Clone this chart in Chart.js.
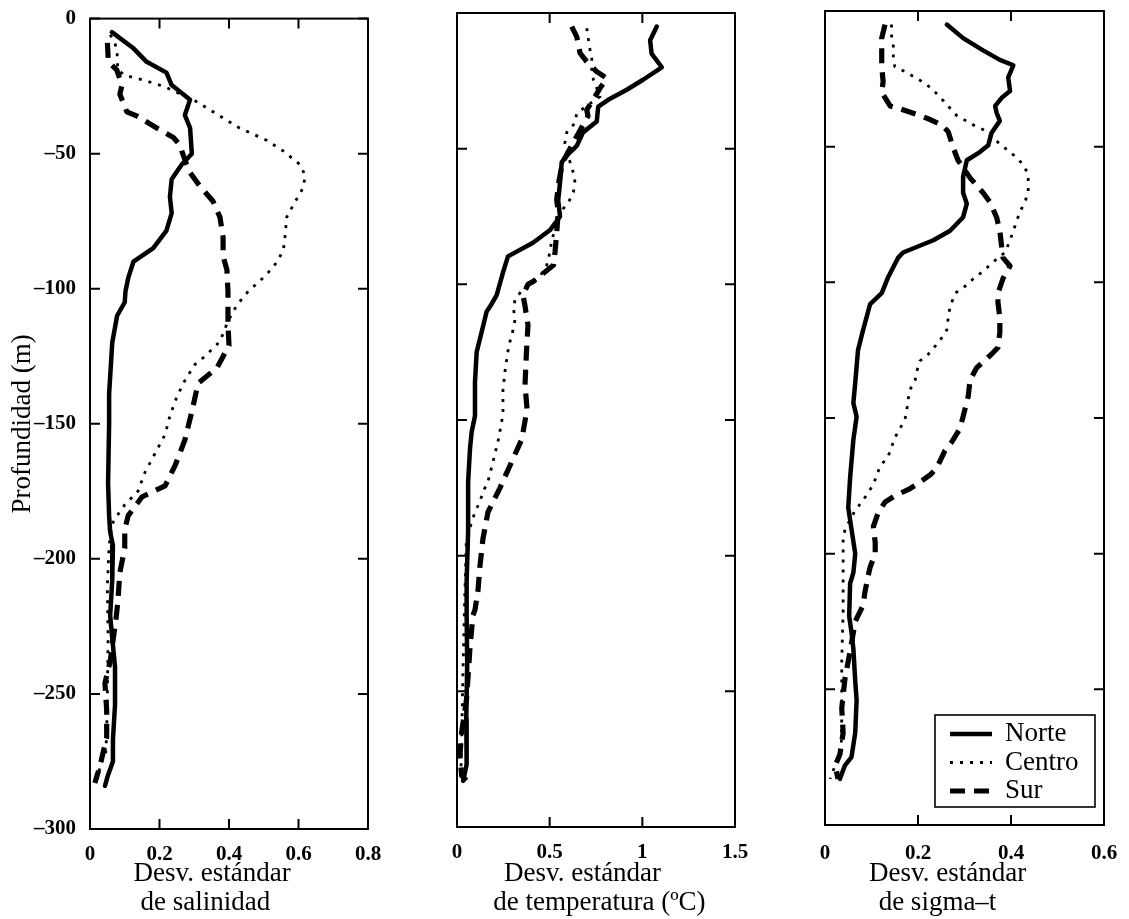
<!DOCTYPE html>
<html><head><meta charset="utf-8">
<script src="https://cdn.jsdelivr.net/npm/chart.js@4.4.1/dist/chart.umd.min.js"></script>
<style>
html,body{margin:0;padding:0;background:#fff;}
#wrap{position:relative;width:1129px;height:919px;overflow:hidden;background:#fff;}
canvas{position:absolute;top:0;}
</style></head><body>
<div id="wrap">
<canvas id="c1" width="420" height="919" style="left:0px"></canvas>
<canvas id="c2" width="360" height="919" style="left:420px"></canvas>
<canvas id="c3" width="349" height="919" style="left:780px"></canvas>
</div>
<script>
// ---------- DATA ----------
const seriesNames = ['Norte', 'Centro', 'Sur'];
const depthTicks = [0, -50, -100, -150, -200, -250, -300];

// Panel 1: salinity std dev
const salNorteDepth = [-5,-11,-16,-20,-24.6,-30,-35.7,-40.5,-50,-54,-59.5,-66,-72,-78.5,-85,-90,-96,-101,-105,-110,-120,-139,-150,-172,-184,-190,-195,-208,-221,-228,-240,-254,-267,-275,-280,-284];
const salNorteValue = [0.063,0.125,0.163,0.22,0.235,0.288,0.273,0.288,0.293,0.264,0.235,0.23,0.235,0.22,0.182,0.125,0.11,0.102,0.1,0.078,0.064,0.055,0.055,0.052,0.055,0.058,0.066,0.064,0.058,0.063,0.072,0.072,0.066,0.066,0.052,0.043];
const salCentroDepth = [-6,-9,-13,-19,-21,-23,-25,-30,-34.5,-40.5,-45,-49,-54,-58,-62.5,-69,-73.5,-81,-86,-92,-97,-101,-106,-112,-119.5,-125,-128,-134,-140,-147,-154,-161,-168,-175,-180,-184,-187,-195,-210,-230,-250,-265,-272,-277,-280];
const salCentroValue = [0.058,0.072,0.078,0.08,0.1,0.16,0.21,0.297,0.354,0.43,0.508,0.556,0.604,0.619,0.614,0.585,0.566,0.561,0.556,0.528,0.49,0.455,0.423,0.397,0.374,0.331,0.302,0.273,0.25,0.23,0.216,0.187,0.158,0.138,0.1,0.078,0.064,0.055,0.05,0.052,0.05,0.048,0.045,0.025,0.03];
const salSurDepth = [-9,-16,-19,-24.6,-28,-34.5,-36,-40.5,-44,-47,-49,-54,-57,-62,-67.6,-73.5,-81,-88,-93,-101,-113,-121,-129.4,-135,-145,-156,-165.4,-173,-177,-184,-189,-196,-205,-216,-222,-238,-246,-256,-266,-276.5,-283];
const salSurValue = [0.05,0.053,0.077,0.092,0.086,0.106,0.134,0.192,0.24,0.26,0.264,0.278,0.288,0.316,0.354,0.374,0.383,0.383,0.394,0.397,0.397,0.4,0.365,0.311,0.294,0.273,0.245,0.216,0.15,0.11,0.1,0.1,0.086,0.08,0.075,0.058,0.043,0.048,0.048,0.029,0.014];

// Panel 2: temperature std dev (ºC)
const temNorteDepth = [-5,-10,-15,-20,-24.6,-28.3,-32,-34.5,-40,-44,-49,-52,-55,-62.5,-69,-75,-80,-84.7,-89.7,-95.7,-104,-108,-110,-117.6,-125,-136,-148.5,-154.4,-160.7,-172.8,-191,-209.6,-222,-240,-260,-277,-283];
const temNorteValue = [1.078,1.042,1.05,1.105,1.004,0.916,0.816,0.762,0.754,0.68,0.646,0.6,0.565,0.556,0.546,0.556,0.502,0.41,0.275,0.248,0.214,0.18,0.16,0.133,0.106,0.097,0.097,0.079,0.07,0.06,0.06,0.052,0.052,0.055,0.05,0.052,0.033];
const temCentroDepth = [-5.6,-9.3,-13.6,-16.7,-21,-24.6,-27.7,-30.8,-36.9,-40.5,-44,-48,-55,-59,-62.5,-66,-70,-73.5,-78.5,-83.5,-88,-93,-97,-101.8,-105.5,-109,-113,-117,-121,-124.6,-132,-139,-147,-150.7,-158,-165.4,-172.8,-176.5,-180,-184,-187.5,-195,-220,-250,-270,-282];
const temCentroValue = [0.7,0.708,0.718,0.727,0.727,0.736,0.754,0.772,0.646,0.637,0.592,0.582,0.61,0.628,0.637,0.628,0.6,0.556,0.538,0.511,0.502,0.484,0.448,0.356,0.313,0.305,0.313,0.302,0.286,0.275,0.259,0.248,0.248,0.241,0.221,0.194,0.167,0.14,0.124,0.097,0.079,0.05,0.04,0.03,0.025,0.02];
const temSurDepth = [-5,-8.7,-14.8,-17.9,-21.6,-24,-27.7,-30.8,-35.7,-38,-45,-55,-62,-68.8,-73.5,-81,-88,-93,-99,-100,-104,-108,-115,-126,-137,-146,-157,-165.4,-175,-184,-193.8,-203.7,-213,-220,-222,-234,-252.6,-265,-273.5,-281,-283];
const temSurValue = [0.619,0.646,0.664,0.7,0.754,0.808,0.772,0.745,0.7,0.707,0.65,0.57,0.55,0.538,0.546,0.538,0.529,0.52,0.41,0.383,0.356,0.367,0.383,0.374,0.367,0.378,0.35,0.295,0.232,0.167,0.14,0.124,0.113,0.097,0.086,0.07,0.052,0.025,0.016,0.025,0.052];

// Panel 3: sigma-t std dev
const sigNorteDepth = [-5,-10,-14.5,-18,-20,-24.5,-29.5,-32,-35,-37.5,-40.5,-45,-49.5,-52,-55,-61,-67,-71,-76,-81,-84.5,-89,-91,-98,-104,-108,-112.5,-117.5,-125,-137,-144.5,-149.5,-158,-172,-183,-191,-200,-207,-211,-223,-229,-235,-247,-254,-266,-275,-278,-283];
const sigNorteValue = [0.262,0.297,0.34,0.376,0.405,0.394,0.398,0.38,0.366,0.369,0.376,0.358,0.351,0.333,0.305,0.297,0.297,0.305,0.297,0.269,0.233,0.168,0.157,0.136,0.122,0.097,0.09,0.082,0.071,0.065,0.061,0.068,0.061,0.054,0.05,0.057,0.065,0.061,0.054,0.052,0.057,0.061,0.065,0.068,0.065,0.057,0.043,0.032];
const sigCentroDepth = [-5,-9,-13,-17,-20.5,-22,-25.5,-28.5,-33,-38.5,-42,-44,-49,-53,-56,-60,-63.5,-66.5,-70.5,-74,-77.5,-81,-84.5,-89,-93,-96,-98,-101,-104,-109,-113,-117.5,-120.5,-123.5,-126.5,-129,-133,-136,-139.5,-143,-147,-150.5,-154,-157,-164,-168,-174.5,-177.5,-181,-184,-191,-195,-210,-221,-240,-260,-272,-283];
const sigCentroValue = [0.143,0.143,0.147,0.147,0.15,0.168,0.204,0.229,0.254,0.283,0.319,0.344,0.376,0.405,0.423,0.437,0.437,0.437,0.43,0.419,0.412,0.405,0.398,0.387,0.358,0.34,0.323,0.305,0.28,0.269,0.265,0.262,0.251,0.237,0.222,0.204,0.197,0.194,0.183,0.179,0.176,0.172,0.161,0.151,0.136,0.118,0.104,0.093,0.079,0.065,0.043,0.039,0.039,0.039,0.036,0.036,0.035,0.011];
const sigSurDepth = [-5,-10,-16,-20.5,-26,-30,-35,-36,-38.5,-40,-42,-44.5,-50.5,-55,-61.5,-67,-70.5,-76,-81,-87,-91,-94,-98.5,-104,-107.5,-113,-118.5,-124,-126.5,-131.5,-136,-142,-149.5,-154,-159,-162,-168.5,-171,-174.5,-176,-179,-181,-185,-190,-196,-200,-205,-208,-214,-219,-225,-236,-246,-257,-266,-274,-278,-283];
const sigSurValue = [0.129,0.122,0.122,0.122,0.125,0.122,0.14,0.161,0.204,0.226,0.251,0.265,0.276,0.286,0.312,0.34,0.355,0.369,0.376,0.38,0.383,0.398,0.383,0.372,0.372,0.376,0.376,0.372,0.358,0.326,0.312,0.308,0.297,0.29,0.272,0.258,0.24,0.226,0.197,0.183,0.147,0.129,0.114,0.104,0.108,0.108,0.097,0.093,0.086,0.082,0.065,0.054,0.043,0.036,0.039,0.032,0.022,0.028];

// ---------- STYLES ----------
const FONT = "'Liberation Serif', 'Times New Roman', Times, serif";
Chart.defaults.font.family = FONT;
Chart.defaults.color = '#000';

const lineStyles = {
  Norte:  {borderWidth: 4.5, borderDash: [], borderCapStyle: 'round'},
  Centro: {borderWidth: 2.8, borderDash: [3, 7], borderCapStyle: 'butt'},
  Sur:    {borderWidth: 5.2, borderDash: [15, 9], borderCapStyle: 'butt'}
};

const framePlugin = {
  id: 'frame',
  afterDatasetsDraw(chart) {
    const {ctx, chartArea: a, scales: {x, y}} = chart;
    ctx.save();
    ctx.strokeStyle = '#000';
    ctx.lineWidth = 2;
    ctx.setLineDash([]);
    ctx.strokeRect(a.left, a.top, a.right - a.left, a.bottom - a.top);
    const L = 10;
    ctx.beginPath();
    x.ticks.forEach(t => {
      const px = x.getPixelForValue(t.value);
      ctx.moveTo(px, a.bottom); ctx.lineTo(px, a.bottom - L);
      ctx.moveTo(px, a.top); ctx.lineTo(px, a.top + L);
    });
    y.ticks.forEach(t => {
      const py = y.getPixelForValue(t.value);
      ctx.moveTo(a.left, py); ctx.lineTo(a.left + L, py);
      ctx.moveTo(a.right, py); ctx.lineTo(a.right - L, py);
    });
    ctx.stroke();
    ctx.restore();
  }
};

const boxLegend = {
  id: 'boxLegend',
  afterDraw(chart, args, opts) {
    if (!opts || !opts.display) return;
    const {ctx, chartArea: a} = chart;
    const w = 160, h = 92;
    const left = a.right - 9 - w, top = a.bottom - 18 - h;
    ctx.save();
    ctx.fillStyle = '#fff';
    ctx.fillRect(left, top, w, h);
    ctx.lineWidth = 1.6;
    ctx.strokeStyle = '#000';
    ctx.setLineDash([]);
    ctx.strokeRect(left, top, w, h);
    const rows = [19, 47.5, 76];
    chart.data.datasets.forEach((ds, i) => {
      const yy = top + rows[i];
      ctx.beginPath();
      ctx.setLineDash(ds.borderDash || []);
      ctx.lineWidth = ds.borderWidth;
      ctx.lineCap = 'butt';
      ctx.strokeStyle = ds.borderColor;
      ctx.moveTo(left + 15, yy);
      ctx.lineTo(left + 57, yy);
      ctx.stroke();
      ctx.setLineDash([]);
      ctx.fillStyle = '#000';
      ctx.font = "27px " + FONT;
      ctx.textBaseline = 'middle';
      ctx.textAlign = 'left';
      ctx.fillText(ds.label, left + 70, yy);
    });
    ctx.restore();
  }
};

function buildDatasets(depths, values) {
  return seriesNames.map((name, k) => Object.assign({
    label: name,
    data: depths[k].map((d, i) => ({x: values[k][i], y: d})),
    showLine: true,
    borderColor: '#000',
    backgroundColor: '#000',
    pointRadius: 0,
    pointHoverRadius: 0,
    tension: 0,
    fill: false,
    borderJoinStyle: 'round'
  }, lineStyles[name]));
}

function makePanel(id, p) {
  new Chart(document.getElementById(id), {
    type: 'scatter',
    data: {datasets: buildDatasets(p.depths, p.values)},
    options: {
      responsive: false,
      animation: false,
      events: [],
      layout: {padding: {left: 0, right: p.padRight, top: p.padTop, bottom: 0}},
      plugins: {
        legend: {display: false},
        tooltip: {enabled: false},
        boxLegend: {display: !!p.legend}
      },
      scales: {
        x: {
          type: 'linear', position: 'bottom',
          min: 0, max: p.xMax,
          grid: {display: false}, border: {display: false},
          afterBuildTicks(s) { s.ticks = p.xTicks.map(v => ({value: v})); },
          ticks: {font: {size: 21, weight: 'bold'}, padding: p.xTickPad, maxRotation: 0,
                  callback: v => String(v)},
          title: {display: true, text: p.xTitle,
                  font: {size: 27, lineHeight: '29px'},
                  padding: {top: 0, bottom: 2}},
          afterFit(s) { s.height = p.xAxisHeight; }
        },
        y: {
          type: 'linear', position: 'left',
          min: -300, max: 0,
          grid: {display: false}, border: {display: false},
          afterBuildTicks(s) { s.ticks = depthTicks.map(v => ({value: v})); },
          ticks: {display: p.showYLabels, font: {size: 21, weight: 'bold'}, padding: 6,
                  callback: v => (v < 0 ? '\u2013' + (-v) : String(v))},
          title: {display: !!p.yTitle, text: p.yTitle || '',
                  font: {size: 27, lineHeight: '29px'},
                  padding: {top: 8.5, bottom: 0}},
          afterFit(s) { s.width = p.yAxisWidth; }
        }
      }
    },
    plugins: [framePlugin, boxLegend]
  });
}

makePanel('c1', {
  depths: [salNorteDepth, salCentroDepth, salSurDepth],
  values: [salNorteValue, salCentroValue, salSurValue],
  xMax: 0.8, xTicks: [0, 0.2, 0.4, 0.6, 0.8],
  yAxisWidth: 90, padRight: 52, padTop: 13, xAxisHeight: 90, xTickPad: 5,
  showYLabels: true, yTitle: 'Profundidad (m)',
  xTitle: ['Desv. estándar     ', 'de salinidad       ']
});
makePanel('c2', {
  depths: [temNorteDepth, temCentroDepth, temSurDepth],
  values: [temNorteValue, temCentroValue, temSurValue],
  xMax: 1.5, xTicks: [0, 0.5, 1, 1.5],
  yAxisWidth: 37, padRight: 45, padTop: 13, xAxisHeight: 92, xTickPad: 5,
  showYLabels: false,
  xTitle: ['Desv. estándar    ', ' de temperatura (ºC)']
});
makePanel('c3', {
  depths: [sigNorteDepth, sigCentroDepth, sigSurDepth],
  values: [sigNorteValue, sigCentroValue, sigSurValue],
  xMax: 0.6, xTicks: [0, 0.2, 0.4, 0.6],
  yAxisWidth: 45, padRight: 25, padTop: 11, xAxisHeight: 94, xTickPad: 8,
  showYLabels: false, legend: true,
  xTitle: ['Desv. estándar     ', 'de sigma\u2013t        ']
});
</script>
</body></html>
